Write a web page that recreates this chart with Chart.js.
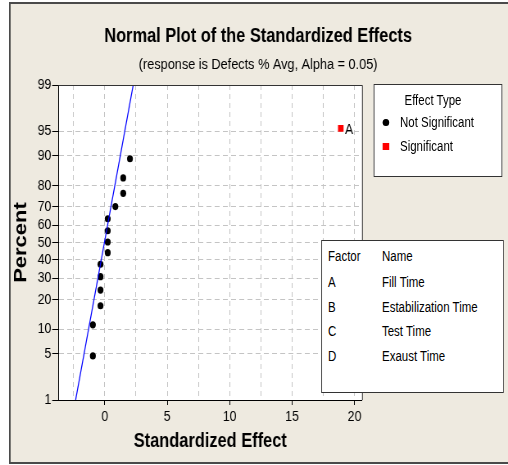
<!DOCTYPE html>
<html>
<head>
<meta charset="utf-8">
<script src="https://cdn.jsdelivr.net/npm/chart.js@4.4.1/dist/chart.umd.min.js"></script>
<style>
  html, body { margin: 0; background: #fff; overflow: hidden; width: 508px; height: 465px; }
  /* the original picture is squeezed horizontally, so draw wide and squeeze */
  #wrap { position: absolute; left: 0; top: 0; width: 620px; height: 465px; transform: scaleX(0.8194); transform-origin: 0 0; }
  #chart { position: absolute; left: 0; top: 0; }
  .box { position: absolute; background: #fff; border: 1px solid #333; box-sizing: border-box; }
  .txt { position: absolute; height: 18px; line-height: 18px; font-size: 14px; color: #000; white-space: nowrap;
         font-family: "Liberation Sans", Arial, sans-serif; }
</style>
</head>
<body>
<div id="wrap">
  <canvas id="chart" width="620" height="465"></canvas>
</div>
<script>
// values
const notSigEffect = [-0.95, -0.95, -0.34, -0.34, -0.34, -0.34, 0.24, 0.24, 0.24, 0.24, 0.85, 1.48, 1.48, 2.02];
const notSigPercent = [4.7, 11.2, 17.5, 24.1, 30.7, 37.4, 44.0, 50.3, 56.9, 63.7, 70.2, 76.6, 83.0, 89.2];
const sigEffect = [18.9];
const sigPercent = [95.4];
const sigLabels = ["A"];
const fitLineEffect = [-2.33, 2.28];
const fitLinePercent = [1, 99];
const yTicks = [1, 5, 10, 20, 30, 40, 50, 60, 70, 80, 90, 95, 99];
const xTicks = [0, 5, 10, 15, 20];
const xGrid = [-2.5, 0, 2.5, 5, 7.5, 10, 12.5, 15, 17.5, 20];
const factorCodes = ["A", "B", "C", "D"];
const factorNames = ["Fill Time", "Estabilization Time", "Test Time", "Exaust Time"];

const FONT = '"Liberation Sans", Arial, sans-serif';

// inverse normal cdf, used for the probability axis
function probit(p) {
  const a = [-3.969683028665376e+01, 2.209460984245205e+02, -2.759285104469687e+02, 1.383577518672690e+02, -3.066479806614716e+01, 2.506628277459239e+00];
  const b = [-5.447609879822406e+01, 1.615858368580409e+02, -1.556989798598866e+02, 6.680131188771972e+01, -1.328068155288572e+01];
  const c = [-7.784894002430293e-03, -3.223964580411365e-01, -2.400758277161838e+00, -2.549732539343734e+00, 4.374664141464968e+00, 2.938163982698783e+00];
  const d = [7.784695709041462e-03, 3.224671290700398e-01, 2.445134137142996e+00, 3.754408661907416e+00];
  const pl = 0.02425;
  if (p < pl) {
    const q = Math.sqrt(-2 * Math.log(p));
    return (((((c[0]*q+c[1])*q+c[2])*q+c[3])*q+c[4])*q+c[5]) / ((((d[0]*q+d[1])*q+d[2])*q+d[3])*q+1);
  }
  if (p > 1 - pl) {
    const q = Math.sqrt(-2 * Math.log(1 - p));
    return -(((((c[0]*q+c[1])*q+c[2])*q+c[3])*q+c[4])*q+c[5]) / ((((d[0]*q+d[1])*q+d[2])*q+d[3])*q+1);
  }
  const q = p - 0.5, r = q * q;
  return (((((a[0]*r+a[1])*r+a[2])*r+a[3])*r+a[4])*r+a[5])*q / (((((b[0]*r+b[1])*r+b[2])*r+b[3])*r+b[4])*r+1);
}

const toPoints = (xs, ps) => xs.map((x, i) => ({ x: x, y: probit(ps[i] / 100) }));

const frame = {
  id: "frame",
  beforeDraw(chart) {
    const { ctx, chartArea: a } = chart;
    ctx.save();
    ctx.fillStyle = "#fff";
    ctx.fillRect(0, 0, 620, 465);
    ctx.fillStyle = "#eeeae0";
    ctx.fillRect(11, 2, 609, 462);
    ctx.strokeStyle = "#4a4a4a";
    ctx.lineWidth = 2;
    ctx.beginPath();
    ctx.moveTo(620, 3); ctx.lineTo(12, 3); ctx.lineTo(12, 463); ctx.lineTo(620, 463);
    ctx.stroke();
    ctx.fillStyle = "#fff";
    ctx.fillRect(a.left, a.top, a.right - a.left, a.bottom - a.top);
    ctx.restore();
  },
  afterDraw(chart) {
    const { ctx, chartArea: a } = chart;
    ctx.save();
    ctx.strokeStyle = "#333";
    ctx.lineWidth = 1;
    ctx.beginPath();
    ctx.moveTo(a.left, a.top + 0.5); ctx.lineTo(a.right + 0.5, a.top + 0.5); ctx.lineTo(a.right + 0.5, a.bottom);
    ctx.stroke();
    // label the significant effects
    const meta = chart.getDatasetMeta(2);
    ctx.fillStyle = "#000";
    ctx.font = "15px " + FONT;
    ctx.textBaseline = "middle";
    meta.data.forEach((pt, i) => ctx.fillText(sigLabels[i], pt.x + 5, pt.y + 1));
    ctx.restore();
  }
};

new Chart(document.getElementById("chart"), {
  type: "scatter",
  data: {
    datasets: [
      {
        type: "line",
        label: "fit",
        data: toPoints(fitLineEffect, fitLinePercent),
        borderColor: "#0000ff",
        borderWidth: 1.2,
        pointRadius: 0,
        fill: false,
      },
      {
        label: "Not Significant",
        data: toPoints(notSigEffect, notSigPercent),
        backgroundColor: "#000",
        borderColor: "#000",
        borderWidth: 0,
        pointRadius: 3.6,
        pointStyle: "circle",
      },
      {
        label: "Significant",
        data: toPoints(sigEffect, sigPercent),
        backgroundColor: "#ff0000",
        borderColor: "#ff0000",
        borderWidth: 0,
        pointRadius: 4.8,
        pointStyle: "rect",
      },
    ],
  },
  options: {
    responsive: false,
    animation: false,
    layout: { padding: { left: 10, right: 0, top: 0, bottom: 0 } },
    plugins: {
      legend: { display: false },
      tooltip: { enabled: false },
      title: {
        display: true,
        text: "Normal Plot of the Standardized Effects",
        color: "#000",
        font: { family: FONT, size: 20, weight: "bold", lineHeight: 1.2 },
        padding: { top: 24.7, bottom: 5 },
      },
      subtitle: {
        display: true,
        text: "(response is Defects % Avg, Alpha = 0.05)",
        color: "#000",
        font: { family: FONT, size: 15.5, lineHeight: 1.2 },
        padding: { top: 2, bottom: 10.7 },
      },
    },
    scales: {
      x: {
        type: "linear",
        min: -3.7,
        max: 20.6,
        afterBuildTicks: (scale) => { scale.ticks = xGrid.map((v) => ({ value: v })); },
        afterFit: (scale) => { scale.height = 65; },
        ticks: {
          autoSkip: false,
          maxRotation: 0,
          padding: 3,
          color: "#000",
          font: { family: FONT, size: 15 },
          callback: (v) => (xTicks.includes(v) ? String(v) : ""),
        },
        grid: {
          color: "#c4c4c4",
          tickLength: 5,
          tickBorderDash: [],
          tickColor: (ctx) => (ctx.tick && xTicks.includes(ctx.tick.value) ? "#000" : "rgba(0,0,0,0)"),
        },
        border: { display: true, color: "#000", width: 1, dash: [5, 4] },
        title: {
          display: true,
          text: "Standardized Effect",
          color: "#000",
          font: { family: FONT, size: 20, weight: "bold", lineHeight: 1.2 },
          padding: { top: 0, bottom: 11.3 },
        },
      },
      y: {
        type: "linear",
        min: probit(yTicks[0] / 100),
        max: probit(yTicks[yTicks.length - 1] / 100),
        afterBuildTicks: (scale) => { scale.ticks = yTicks.map((p) => ({ value: probit(p / 100) })); },
        afterFit: (scale) => { scale.width = 61.4; },
        ticks: {
          autoSkip: false,
          padding: 1,
          color: "#000",
          font: { family: FONT, size: 15 },
          callback: (v, i) => String(yTicks[i]),
        },
        grid: {
          color: "#c4c4c4",
          tickLength: 7.7,
          tickBorderDash: [],
          tickColor: "#000",
        },
        border: { display: true, color: "#000", width: 1, dash: [6, 4] },
        title: {
          display: true,
          text: "Percent",
          color: "#000",
          font: { family: FONT, size: 22, weight: "bold", lineHeight: 1.2 },
          padding: { top: 2.4, bottom: 0 },
        },
      },
      // empty right-hand strip where the legend boxes sit
      side: {
        type: "linear",
        axis: "y",
        position: "right",
        display: true,
        afterFit: (scale) => { scale.width = 178.2; },
        ticks: { display: false },
        grid: { display: false, drawTicks: false },
        border: { display: false },
      },
    },
  },
  plugins: [frame],
});

// legend boxes as real text
const wrap = document.getElementById("wrap");
function box(l, t, w, h) {
  const d = document.createElement("div");
  d.className = "box";
  Object.assign(d.style, { left: l + "px", top: t + "px", width: w + "px", height: h + "px" });
  wrap.appendChild(d);
}
function text(s, l, cy, center) {
  const d = document.createElement("div");
  d.className = "txt";
  d.textContent = s;
  d.style.top = cy - 9 + "px";
  if (center) { d.style.left = l - 100 + "px"; d.style.width = "200px"; d.style.textAlign = "center"; }
  else d.style.left = l + "px";
  wrap.appendChild(d);
}
function marker(cx, cy, color, round) {
  const d = document.createElement("div");
  Object.assign(d.style, {
    position: "absolute", left: cx - 3.7 + "px", top: cy - 3.5 + "px", width: "7.4px", height: "7px",
    background: color, borderRadius: round ? "50%" : "0",
  });
  wrap.appendChild(d);
}

box(456.4, 84, 156.2, 93);
text("Effect Type", 528.4, 100, true);
marker(471.1, 122, "#000", true);
text("Not Significant", 488.2, 122);
marker(471.1, 146, "#ff0000", false);
text("Significant", 488.2, 146);

box(391.7, 240, 223.3, 153);
text("Factor", 400.3, 256);
text("Name", 466.2, 256);
factorCodes.forEach((code, i) => {
  const cy = [282, 307, 331, 356][i];
  text(code, 400.3, cy);
  text(factorNames[i], 466.2, cy);
});
</script>
</body>
</html>
